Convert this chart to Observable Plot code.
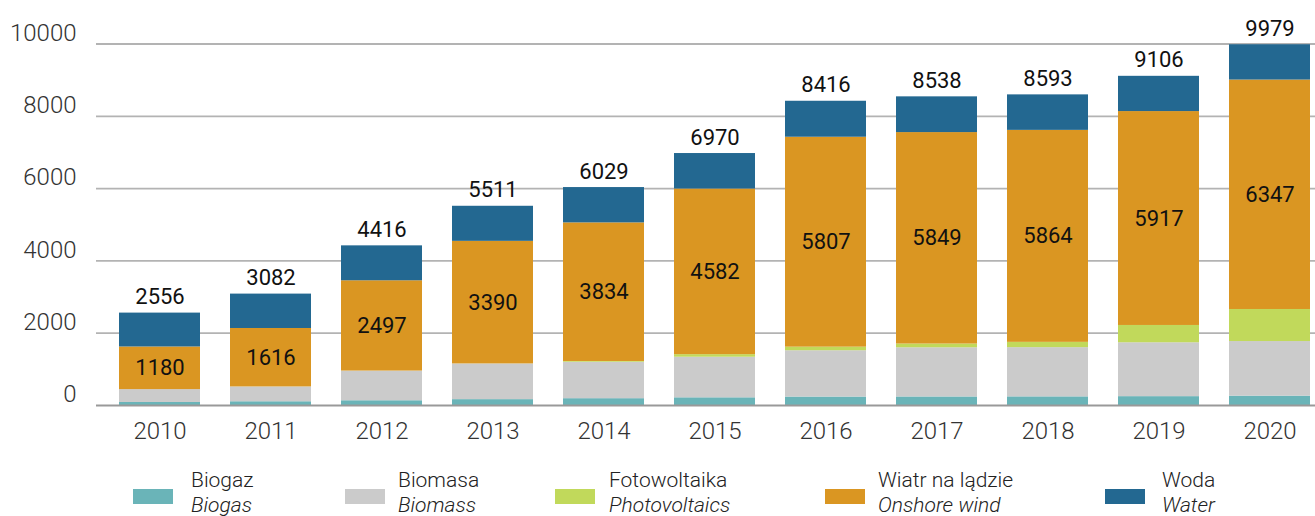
<!DOCTYPE html>
<html>
<head>
<meta charset="utf-8">
<script src="https://cdn.jsdelivr.net/npm/d3@7"></script>
<script src="https://cdn.jsdelivr.net/npm/@observablehq/plot@0.6"></script>
<style>
  html, body { margin: 0; padding: 0; background: #fff; }
  #wrap { width: 1315px; height: 516px; position: relative; overflow: hidden; font-family: Roboto, sans-serif; }
  #legend { position: relative; width: 1315px; height: 61px; }
  .item { position: absolute; top: 0; }
  .sw { position: absolute; left: 0; top: 34px; width: 40px; height: 15px; }
  .lab { position: absolute; top: 13px; white-space: nowrap; font-size: 21px; line-height: 25px; font-weight: 300; color: #222; }
  .lab i { font-style: italic; }
</style>
</head>
<body>
<div id="wrap"><div id="chart"></div><div id="legend"></div></div>
<script>
const years = ["2010","2011","2012","2013","2014","2015","2016","2017","2018","2019","2020"];
const biogas  = [82.9, 103.5, 131.2, 162.2, 188.5, 212.5, 233.9, 236.0, 238.8, 245, 259];
const biomass = [356.2, 409.7, 820.7, 986.9, 1008.2, 1122.7, 1281.1, 1360.7, 1362, 1490, 1510];
const pv      = [0.03, 1.1, 1.3, 1.9, 21.0, 71.0, 99.1, 104, 146, 479, 887];
const wind    = [1180, 1616, 2497, 3390, 3834, 4582, 5807, 5849, 5864, 5917, 6347];
const water   = [937, 951.4, 966.1, 970.1, 977, 981.8, 995, 988.4, 982, 975, 976];
const totals  = [2556, 3082, 4416, 5511, 6029, 6970, 8416, 8538, 8593, 9106, 9979];
const seriesPL = ["Biogaz", "Biomasa", "Fotowoltaika", "Wiatr na lądzie", "Woda"];
const seriesEN = ["Biogas", "Biomass", "Photovoltaics", "Onshore wind", "Water"];
const colors   = ["#6AB4B8", "#CBCBCB", "#C1D95B", "#DA9622", "#236891"];
const yTicks   = [0, 2000, 4000, 6000, 8000, 10000];

const seriesValues = [biogas, biomass, pv, wind, water];
const long = [];
seriesPL.forEach((s, k) => years.forEach((y, i) => long.push({year: y, series: s, value: seriesValues[k][i]})));

const windMid = years.map((y, i) => biogas[i] + biomass[i] + pv[i] + wind[i] / 2);

const chart = Plot.plot({
  width: 1315,
  height: 455,
  marginLeft: 96,
  marginRight: 0,
  marginTop: 43.5,
  marginBottom: 50,
  style: {fontFamily: "Roboto, sans-serif", color: "#333", background: "#fff"},
  x: {type: "band", domain: years, range: [117, 1311], paddingInner: 0.272, paddingOuter: 0, label: null},
  y: {domain: [0, 10000], label: null},
  color: {domain: seriesPL, range: colors},
  marks: [
    Plot.ruleY(yTicks.filter(d => d > 0), {stroke: "#b3b3b3", strokeWidth: 1.8}),
    Plot.barY(long, {x: "year", y: "value", fill: "series", order: null}),
    Plot.ruleY([0], {stroke: "#999", strokeWidth: 2}),
    Plot.axisY(yTicks, {tickSize: 0, tickPadding: 20, dy: -11, fontSize: 24, fontWeight: 300, label: null, tickFormat: d => String(d)}),
    Plot.axisX({tickSize: 0, tickPadding: 16, fontSize: 24, fontWeight: 300, label: null}),
    Plot.text(years, {x: d => d, y: (d, i) => windMid[i], text: (d, i) => String(wind[i]), fontSize: 22, fill: "#111"}),
    Plot.text(years, {x: d => d, y: (d, i) => totals[i], text: (d, i) => String(totals[i]), lineAnchor: "bottom", dy: -9, fontSize: 22, fill: "#111"})
  ]
});
document.getElementById("chart").appendChild(chart);

const legendLefts = [133, 345, 555, 825, 1105];
const labelOffsets = [58, 53, 54, 53, 57];
const legend = document.getElementById("legend");
seriesPL.forEach((s, k) => {
  const item = document.createElement("div");
  item.className = "item";
  item.style.left = legendLefts[k] + "px";
  const sw = document.createElement("span");
  sw.className = "sw";
  sw.style.background = colors[k];
  const lab = document.createElement("div");
  lab.className = "lab";
  lab.style.left = labelOffsets[k] + "px";
  lab.innerHTML = s + "<br><i>" + seriesEN[k] + "</i>";
  item.appendChild(sw);
  item.appendChild(lab);
  legend.appendChild(item);
});
</script>
</body>
</html>
